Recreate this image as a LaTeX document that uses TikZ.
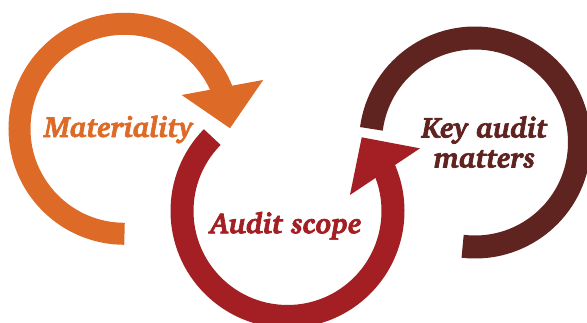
\documentclass[tikz,border=0pt]{standalone}
\usepackage[T1]{fontenc}
\usetikzlibrary{calc}
\definecolor{matorange}{HTML}{DD6B27}
\definecolor{scopered}{HTML}{A41F23}
\definecolor{kambrown}{HTML}{5F2320}
\newcommand{\heavytext}[1]{\special{pdf:literal direct 2 Tr 0.7 w}#1\special{pdf:literal direct 0 Tr}}
\tikzset{
  ring/.style={line cap=butt},
  lbl/.style={font=\fontfamily{bch}\fontseries{b}\fontshape{it}\fontsize{29}{30}\selectfont, inner sep=0pt},
}
\begin{document}
\begin{tikzpicture}[x=1pt,y=1pt]
\useasboundingbox (0,0) rectangle (587,322);
% centres
\coordinate (O) at (124.5,193.2);
\coordinate (R) at (287.5,111);
\coordinate (B) at (475,179.5);
% orange ring with arrowhead
\draw[ring, matorange, line width=22pt] ($(O)+(270:105)$) arc[start angle=270, end angle=21, radius=105];
\fill[matorange, shift={(O)}] (30.6:66.4) -- (0.3:105.5) -- (19.4:147.1) -- cycle;
% red ring with arrowhead
\draw[ring, scopered, line width=23pt] ($(R)+(135.5:105.5)$) arc[start angle=135.5, end angle=384, radius=105.5];
\fill[scopered, shift={(R)}] (14.4:64.5) -- (44.8:104.6) -- (25.3:146.6) -- cycle;
% brown ring
\draw[ring, kambrown, line width=23pt] ($(B)+(172.5:104.5)$) arc[start angle=172.5, end angle=-96.8, radius=104.5];
% labels
\node[lbl, text=matorange, anchor=base] (mat) at (118.5,185) {\heavytext{Materiality}};
\node[lbl, text=scopered, anchor=base] (scope) at (286,88.7) {\heavytext{Audit scope}};
\node[lbl, text=kambrown, align=center] (kam) at (484.5,180) {\heavytext{Key audit}\\\heavytext{matters}};
\end{tikzpicture}
\end{document}
